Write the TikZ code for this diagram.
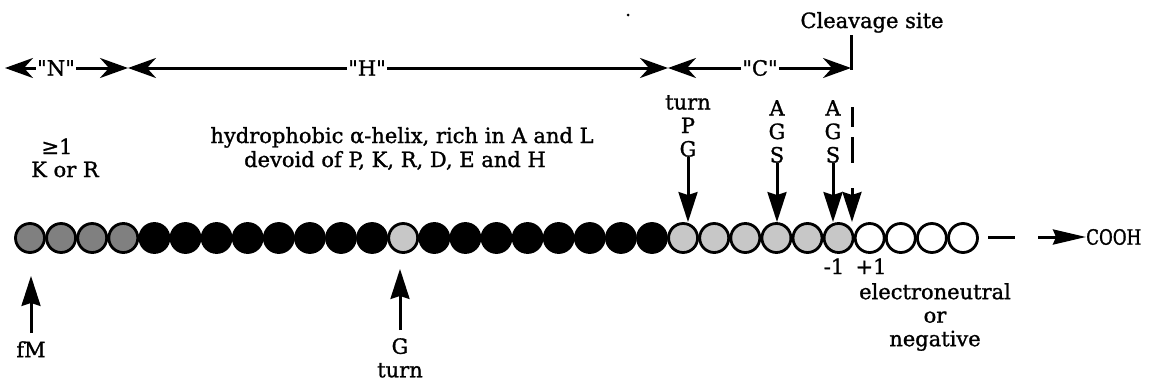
\documentclass[tikz,border=0pt]{standalone}
\usepackage{fontspec}
\setmainfont{DejaVu Serif}[FakeBold=1.2]
\newfontfamily\narrowfont{DejaVu Serif}[FakeStretch=0.8, FakeBold=1.2]
\usetikzlibrary{arrows.meta}

\begin{document}
\begin{tikzpicture}[x = 1pt, y = -1pt, font = \fontsize{21}{23.5}\selectfont,
        res/.style = {circle, draw, line width = 2.8pt, minimum size = 29pt, inner sep = 0pt},
        nres/.style = {res, fill = black!50},
        hres/.style = {res, fill = black},
        cres/.style = {res, fill = black!22},
        mres/.style = {res, fill = white},
        lbl/.style = {inner sep = 0pt, align = center},
        dim/.style = {line width = 3pt, {Stealth[length=28pt, width=20pt, inset=9pt]}-{Stealth[length=28pt, width=20pt, inset=9pt]}},
        ptr/.style = {line width = 3pt, -{Stealth[length=30pt, width=19pt, inset=3pt]}}]
        \useasboundingbox (0,0) rectangle (1154,388);

        % residues of the chain
        \foreach \i in {0,...,3} \node[nres] (c\i) at ({30+31.1*\i},238) {};
        \foreach \i in {4,...,11} \node[hres] (c\i) at ({30+31.1*\i},238) {};
        \node[cres] (c12) at ({30+31.1*12},238) {};
        \foreach \i in {13,...,20} \node[hres] (c\i) at ({30+31.1*\i},238) {};
        \foreach \i in {21,...,26} \node[cres] (c\i) at ({30+31.1*\i},238) {};
        \foreach \i in {27,...,30} \node[mres] (c\i) at ({30+31.1*\i},238) {};

        % regions N, H, C
        \coordinate (nL) at (5,68);
        \coordinate (nh) at (128,68);
        \coordinate (hc) at (668,68);
        \coordinate (cs) at (851,68);
        \coordinate (cstop) at (851,35);
        \draw [dim] (nL) -- (nh);
        \draw [dim] (nh) -- (hc);
        \draw [dim] (hc) -- (cs);
        \draw [line width = 3pt] ([yshift = -1.5pt]cs) -- (cstop);
        \node[lbl, fill = white, inner xsep = 1pt] (N) at (56,68) {\textquotedbl N\textquotedbl};
        \node[lbl, fill = white, inner xsep = 1pt] (H) at (367,68) {\textquotedbl H\textquotedbl};
        \node[lbl, fill = white, inner xsep = 1pt] (C) at (760,68) {\textquotedbl C\textquotedbl};
        \node[lbl, anchor = base] (cleave) at (872,28) {Cleavage site};
        \fill (628,15) circle (1.5pt);

        % texts over the chain
        \node[lbl, anchor = base] (pos1) at (57,154) {≥1};
        \node[lbl, anchor = base] (kr) at (65,177) {K or R};
        \node[lbl, anchor = base] (helix1) at (402,143) {hydrophobic α-helix, rich in A and L};
        \node[lbl, anchor = base] (helix2) at (395,167) {devoid of P, K, R, D, E and H};

        \node[lbl, anchor = south] (turnPG) at (688,157) {turn\\P\\G};
        \node[lbl, anchor = south] (ags1) at (777,163) {A\\G\\S};
        \node[lbl, anchor = south] (ags2) at (833,163) {A\\G\\S};
        \draw [ptr] (turnPG.south) -- (turnPG.south |- c21.north);
        \draw [ptr] (ags1.south) -- (ags1.south |- c24.north);
        \draw [ptr] (ags2.south) -- (ags2.south |- c26.north);

        % cleavage mark
        \coordinate (k1) at (852,107);
        \coordinate (k2) at (852,127);
        \coordinate (k3) at (852,137);
        \coordinate (k4) at (852,163);
        \coordinate (k5) at (852,188);
        \coordinate (k6) at (852,222);
        \draw [line width = 3pt] (k1) -- (k2) (k3) -- (k4);
        \draw [ptr] (k5) -- (k6);

        % texts under the chain
        \node[lbl, anchor = north, inner ysep = 8pt] (fM) at (31,333) {fM};
        \node[lbl, anchor = north, inner ysep = 8pt] (gturn) at (400,330) {G\\turn};
        \draw [ptr, shorten > = 22pt] (fM.north) -- (fM.north |- c0.south);
        \draw [ptr, shorten > = 15pt] (gturn.north) -- (gturn.north |- c12.south);

        \node[lbl, anchor = base] (m1) at (834,274) {-1};
        \node[lbl, anchor = base] (p1) at (871,274) {+1};
        \node[lbl, anchor = north] (charge) at (935,283) {electroneutral\\or\\negative};

        % towards the C terminus
        \coordinate (d1) at (988,237);
        \coordinate (d2) at (1015,237);
        \coordinate (tailC) at (1038,237);
        \draw [line width = 3pt] (d1) -- (d2);
        \node[lbl, anchor = west, font = \narrowfont\fontsize{21}{23.5}\selectfont] (cooh) at (1086,237) {COOH};
        \draw [line width = 3pt, -{Stealth[length=33pt, width=15pt, inset=3pt]}] (tailC) -- (cooh.west);
\end{tikzpicture}
\end{document}
